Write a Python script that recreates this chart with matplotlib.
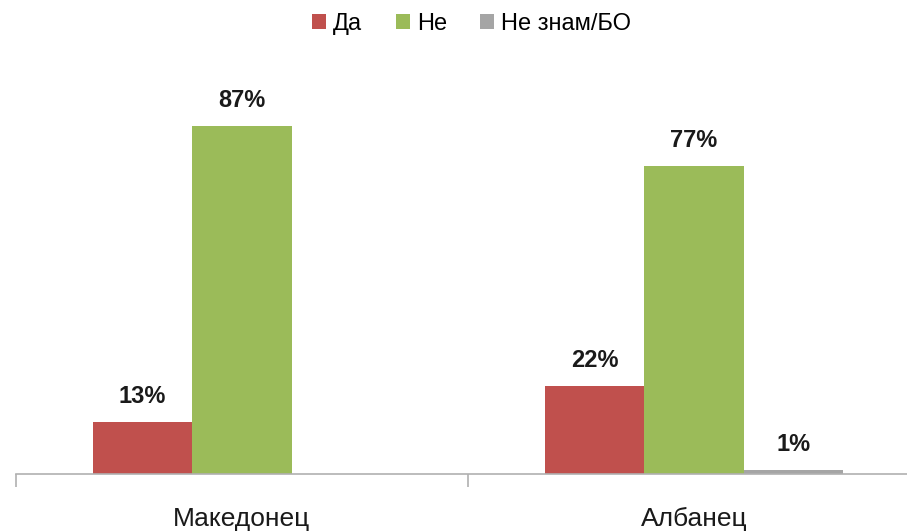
import matplotlib
matplotlib.use('agg')
import matplotlib.pyplot as plt
import numpy as np

plt.rcParams['font.family'] = ['Liberation Sans', 'DejaVu Sans']

categories = ['Македонец', 'Албанец']
series_names = ['Да', 'Не', 'Не знам/БО']
da = [13, 22]
ne = [87, 77]
ne_znam = [0, 1]
colors = ['#C0504D', '#9BBB59', '#A5A5A5']


def label_text(v):
    return '' if v == 0 else str(v) + '%'


fig = plt.figure(figsize=(9.07, 5.32), dpi=100)
ax = fig.add_axes([16 / 907, 58 / 532, 904 / 907, 400 / 532])

x = np.arange(len(categories))
width = 0.22
all_series = [da, ne, ne_znam]
for i, vals in enumerate(all_series):
    pos = x + (i - 1) * width
    ax.bar(pos, vals, width=width, color=colors[i], label=series_names[i], zorder=2)
    for p, v in zip(pos, vals):
        txt = label_text(v)
        if txt:
            ax.annotate(txt, (p, v), xytext=(0, 10), textcoords='offset points',
                        ha='center', va='bottom', fontsize=17, fontweight='bold',
                        color='#1a1a1a')

ax.set_xlim(-0.5, len(categories) - 0.5)
ax.set_ylim(0, 100)

for s in ['top', 'right', 'left']:
    ax.spines[s].set_visible(False)
ax.spines['bottom'].set_color('#B0B0B0')
ax.spines['bottom'].set_linewidth(1.2)
ax.set_yticks([])

# category boundaries get the tick marks, centres get the labels
ax.set_xticks(np.arange(-0.5, len(categories)), labels=[])
ax.tick_params(axis='x', which='major', length=9, color='#B0B0B0', width=1.2)
ax.set_xticks(x, labels=categories, minor=True)
ax.tick_params(axis='x', which='minor', length=0, pad=24, labelsize=19, labelcolor='#1a1a1a')

fig.legend(loc='upper center', bbox_to_anchor=(0.52, 1.015), ncol=3, frameon=False,
           fontsize=17, handlelength=0.6, handleheight=0.6, handletextpad=0.3,
           columnspacing=1.4)

fig.savefig('out.png', dpi=100)
